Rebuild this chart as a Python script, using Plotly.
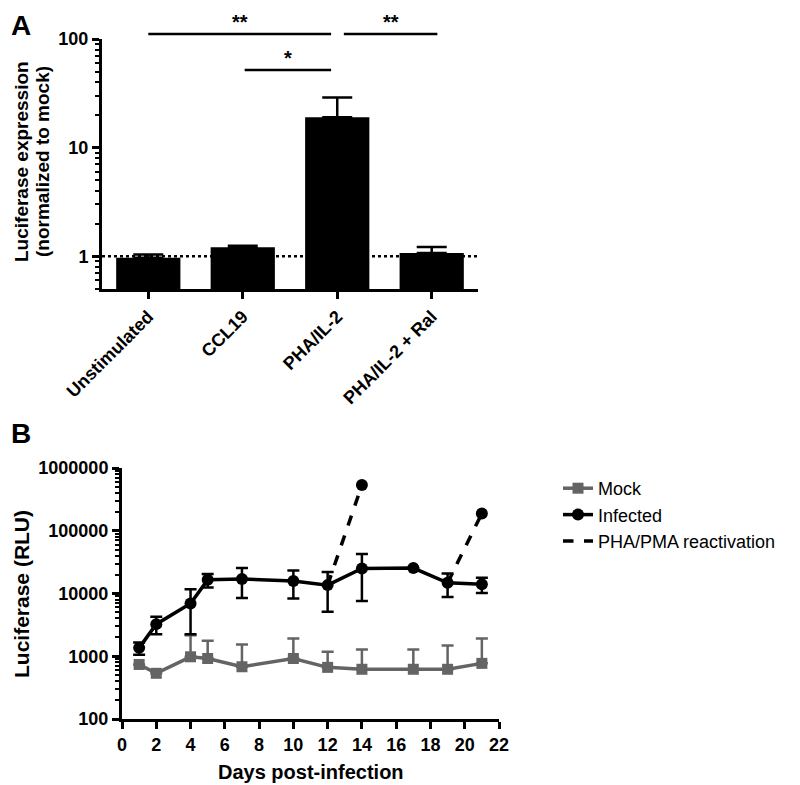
import plotly.graph_objects as go

# ---------------- Panel A data ----------------
categories = ["Unstimulated", "CCL19", "PHA/IL-2", "PHA/IL-2 + Ral"]
a_means = [0.97, 1.21, 19.0, 1.07]
a_err_plus = [0.07, 0.04, 10.0, 0.15]
a_yticks = [1, 10, 100]
baseline = 1
# significance comparisons: (start index, end index, label, level)
comparisons = [(0, 2, "**", 1), (1, 2, "*", 0), (2, 3, "**", 1)]

# ---------------- Panel B data ----------------
mock_days = [1, 2, 4, 5, 7, 10, 12, 14, 17, 19, 21]
mock_vals = [740, 535, 980, 920, 680, 920, 665, 620, 620, 620, 770]
mock_err = [0, 0, 1190, 840, 860, 1000, 510, 660, 660, 870, 1150]

inf_days = [1, 2, 4, 5, 7, 10, 12, 14, 17, 19, 21]
inf_vals = [1360, 3250, 6950, 16500, 17000, 15800, 13600, 25100, 25400, 14800, 14000]
inf_err = [300, 1000, 4700, 4000, 8500, 7500, 8500, 17500, 0, 6000, 3800]

react_start_days = [12, 19]
react_end_days = [14, 21]
react_end_vals = [535000, 189000]

b_yticks = [100, 1000, 10000, 100000, 1000000]
b_xticks = list(range(0, 23, 2))

FONT = "Liberation Sans, Arial, sans-serif"
PAGE_W, PAGE_H = 800, 785
BODY = 8  # default page margin around the plot div
W, H = PAGE_W - BODY, PAGE_H - BODY


def px_x(p):
    return (p - BODY) / W


def px_y(p):
    return 1 - (p - BODY) / H


fig = go.Figure()

# Panel A bars
fig.add_trace(go.Bar(
    x=list(range(len(categories))), y=a_means, width=0.68,
    marker=dict(color="black", line=dict(width=0)),
    error_y=dict(type="data", symmetric=False, array=a_err_plus,
                 arrayminus=[0] * len(a_means), color="black",
                 thickness=2.5, width=15),
    xaxis="x", yaxis="y", showlegend=False,
))

GRAY = "#646464"
# Panel B traces
fig.add_trace(go.Scatter(
    x=mock_days, y=mock_vals, mode="lines+markers", name="Mock",
    line=dict(color=GRAY, width=3.5),
    marker=dict(symbol="square", size=11, color=GRAY),
    error_y=dict(type="data", symmetric=False, array=mock_err,
                 arrayminus=[0] * len(mock_err), color=GRAY,
                 thickness=2.5, width=6),
    xaxis="x2", yaxis="y2",
))
fig.add_trace(go.Scatter(
    x=inf_days, y=inf_vals, mode="lines+markers", name="Infected",
    line=dict(color="black", width=3.5),
    marker=dict(symbol="circle", size=12, color="black"),
    error_y=dict(type="data", array=inf_err, color="black",
                 thickness=2.5, width=6),
    xaxis="x2", yaxis="y2",
))
rx, ry = [], []
for s, e, v in zip(react_start_days, react_end_days, react_end_vals):
    rx += [s, e, None]
    ry += [inf_vals[inf_days.index(s)], v, None]
fig.add_trace(go.Scatter(
    x=rx, y=ry, mode="lines", name="PHA/PMA reactivation",
    line=dict(color="black", width=3.5, dash="dash"),
    xaxis="x2", yaxis="y2",
))
fig.add_trace(go.Scatter(
    x=react_end_days, y=react_end_vals, mode="markers",
    marker=dict(symbol="circle", size=12, color="black"),
    showlegend=False, xaxis="x2", yaxis="y2",
))

tickfont = dict(family=FONT, size=18, color="black", weight="bold")
minor = dict(ticks="outside", ticklen=4, tickwidth=2, tickcolor="black", dtick="D1")
common = dict(showline=True, linewidth=3, linecolor="black", ticks="outside",
              ticklen=7, tickwidth=3, tickcolor="black", showgrid=False,
              zeroline=False, automargin=False)

fig.update_layout(
    width=W, height=H, margin=dict(l=0, r=0, t=0, b=0, autoexpand=False),
    paper_bgcolor="white", plot_bgcolor="white",
    font=dict(family=FONT, color="black"),
    xaxis=dict(
        domain=[px_x(102), px_x(478)], anchor="y",
        range=[-0.49, 3.49], tickvals=list(range(len(categories))),
        ticktext=categories, tickangle=-45,
        tickfont=dict(family=FONT, size=18, color="black", weight="bold"),
        **common,
    ),
    yaxis=dict(
        domain=[px_y(289), px_y(39)], anchor="x", type="log",
        range=[-0.301, 2], tickvals=a_yticks, ticktext=[str(t) for t in a_yticks],
        tickfont=tickfont, minor=minor, **common,
    ),
    xaxis2=dict(
        domain=[px_x(122), px_x(499)], anchor="y2",
        range=[0, 22], tickvals=b_xticks, tickfont=tickfont, **common,
    ),
    yaxis2=dict(
        domain=[px_y(719), px_y(468)], anchor="x2", type="log",
        range=[2, 6], tickvals=b_yticks, ticktext=[str(t) for t in b_yticks],
        tickfont=tickfont, minor=minor, **common,
    ),
    legend=dict(x=px_x(558), y=px_y(470), xanchor="left", yanchor="top",
                font=dict(family=FONT, size=18, color="black"),
                bgcolor="rgba(0,0,0,0)", tracegroupgap=0),
)

# dotted baseline at 1
fig.add_shape(type="line", xref="x domain", x0=0, x1=1, yref="y", y0=baseline, y1=baseline,
              line=dict(color="black", width=2.5, dash="dot"))

# significance brackets
level_y = {1: px_y(34), 0: px_y(70)}
for i, j, lab, lev in comparisons:
    x0 = i + (0.07 if i == 2 else 0.02 * (i > 0))
    x1 = j + (0.06 if i == 2 else -0.065)
    fig.add_shape(type="line", xref="x", yref="paper", x0=x0, x1=x1,
                  y0=level_y[lev], y1=level_y[lev], line=dict(color="black", width=2.5))
    fig.add_annotation(xref="x", yref="paper", x=(x0 + x1) / 2, y=level_y[lev],
                       text=lab, showarrow=False, yanchor="bottom", yshift=-1,
                       font=dict(family=FONT, size=20, color="black", weight="bold"))

# axis titles
title_font = dict(family=FONT, color="black", weight="bold")
fig.add_annotation(xref="paper", yref="paper", x=px_x(22), y=px_y(162),
                   text="Luciferase expression", textangle=-90, showarrow=False,
                   xanchor="center", yanchor="middle", font=dict(size=19, **title_font))
fig.add_annotation(xref="paper", yref="paper", x=px_x(43), y=px_y(162),
                   text="(normalized to mock)", textangle=-90, showarrow=False,
                   xanchor="center", yanchor="middle", font=dict(size=19, **title_font))
fig.add_annotation(xref="paper", yref="paper", x=px_x(21), y=px_y(594),
                   text="Luciferase (RLU)", textangle=-90, showarrow=False,
                   xanchor="center", yanchor="middle", font=dict(size=21, **title_font))
fig.add_annotation(xref="paper", yref="paper", x=px_x(311), y=px_y(772),
                   text="Days post-infection", showarrow=False,
                   xanchor="center", yanchor="middle", font=dict(size=20, **title_font))

# panel letters
fig.add_annotation(xref="paper", yref="paper", x=px_x(9), y=1, text="A",
                   showarrow=False, xanchor="left", yanchor="top", yshift=0,
                   font=dict(family=FONT, size=28, color="black", weight="bold"))
fig.add_annotation(xref="paper", yref="paper", x=px_x(9), y=px_y(433), text="B",
                   showarrow=False, xanchor="left", yanchor="middle",
                   font=dict(family=FONT, size=28, color="black", weight="bold"))

fig.write_html("out.html")
